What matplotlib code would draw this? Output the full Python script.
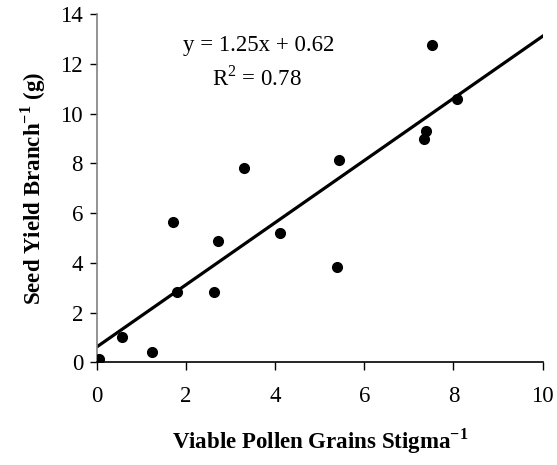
import numpy as np
import matplotlib
matplotlib.use('Agg')
import matplotlib.pyplot as plt

# Data
pollen = [0.05, 0.57, 1.24, 1.79, 2.63, 2.71, 1.70, 3.31, 4.10, 5.38, 5.43, 7.52, 8.08, 7.39, 7.35]
seed_yield = [0.13, 1.03, 0.41, 2.84, 2.84, 4.89, 5.63, 7.83, 5.19, 3.82, 8.15, 12.76, 10.58, 9.30, 8.97]
slope = 1.25
intercept = 0.62
r2 = 0.78
x_ticks = [0, 2, 4, 6, 8, 10]
y_ticks = [0, 2, 4, 6, 8, 10, 12, 14]

plt.rcParams['font.family'] = ['Liberation Serif', 'DejaVu Serif']
plt.rcParams['mathtext.fontset'] = 'custom'
plt.rcParams['mathtext.rm'] = 'Liberation Serif'
plt.rcParams['mathtext.bf'] = 'Liberation Serif:bold'

fig = plt.figure(figsize=(5.57, 4.65), dpi=100)
ax = fig.add_axes([0.174, 0.221, 0.80, 0.748])

ax.plot(pollen, seed_yield, 'o', color='black', ms=7, zorder=3)
fit_x = np.array([0, 10])
ax.plot(fit_x, slope * fit_x + intercept, color='black', lw=2.3, zorder=2)

ax.text(3.63, 12.76, 'y = %.2fx + %.2f' % (slope, intercept), ha='center', va='center', fontsize=16.5)
ax.text(3.6, 11.44, 'R$^2$ = %.2f' % r2, ha='center', va='center', fontsize=16.5)

ax.set_xlim(0, 10)
ax.set_ylim(0, 14)
ax.set_xticks(x_ticks)
ax.set_yticks(y_ticks)
ax.tick_params(axis='both', labelsize=16.5, direction='out', color='black', width=1)
ax.tick_params(axis='x', length=6, pad=11)
ax.tick_params(axis='y', length=5, pad=5)

ax.spines['top'].set_visible(False)
ax.spines['right'].set_visible(False)
ax.spines['left'].set_color('#808080')
ax.spines['left'].set_linewidth(1.2)
ax.spines['bottom'].set_color('black')
ax.spines['bottom'].set_linewidth(1.2)

ax.set_xlabel(r'Viable Pollen Grains Stigma$^{\mathbf{-1}}$', fontsize=16.5, fontweight='bold', labelpad=14)
ax.set_ylabel(r'Seed Yield Branch$^{\mathbf{-1}}$ (g)', fontsize=16.5, fontweight='bold', labelpad=9)

fig.savefig('out.png', dpi=100)
